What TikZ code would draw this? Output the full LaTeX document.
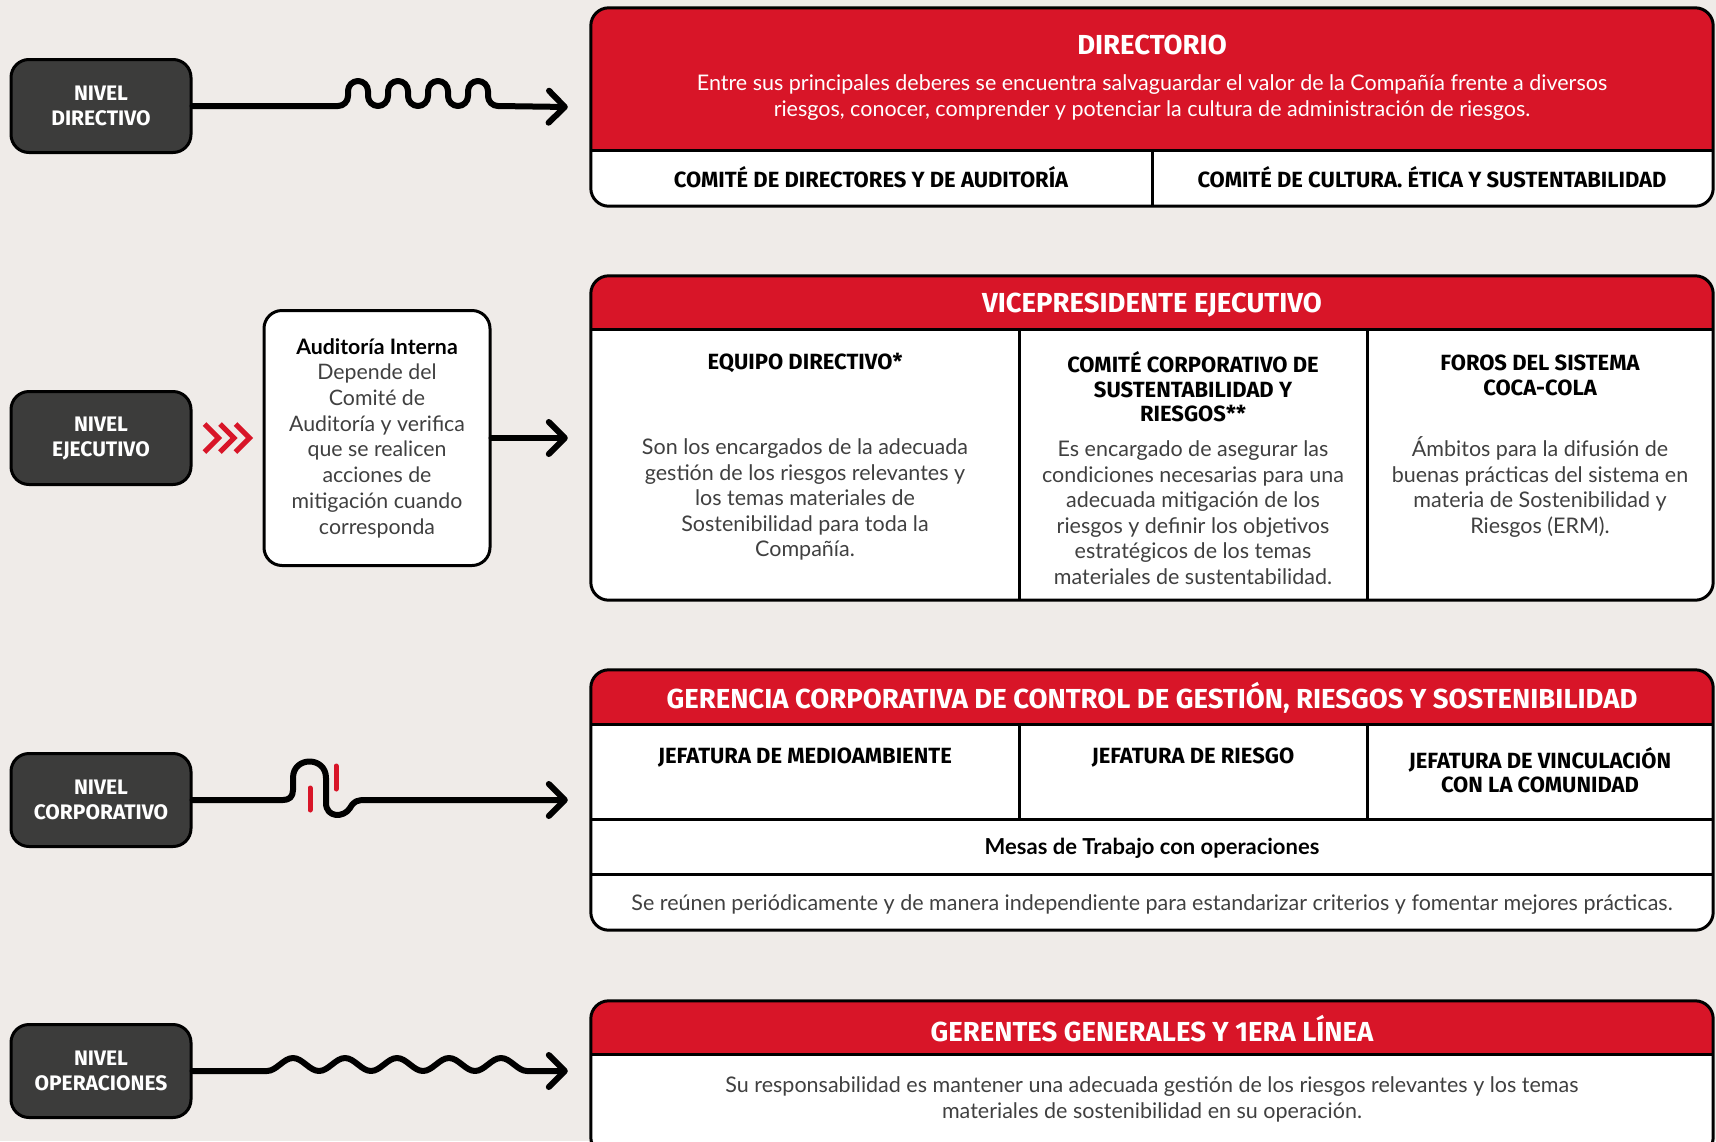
\documentclass[tikz,border=0pt]{standalone}
\usepackage{fontspec}
\setmainfont{Lato}
\newfontfamily\headfont{Fira Sans}
\usetikzlibrary{arrows.meta,positioning,calc}
\definecolor{cocared}{RGB}{216,21,40}
\definecolor{paper}{RGB}{239,235,232}
\definecolor{boxgray}{RGB}{60,60,59}
\definecolor{bodygray}{RGB}{64,64,64}

\tikzset{
  nivel/.style={draw=black, line width=3pt, fill=boxgray, rounded corners=18pt, minimum width=180pt, minimum height=93pt, text=white, align=center, font=\headfont\bfseries\fontsize{21}{25}\selectfont},
  panel/.style={fill=white, rounded corners=18pt, minimum width=1122pt, inner sep=0pt},
  panelrule/.style={draw=black, line width=3pt},
  wire/.style={line width=6pt, line cap=round, line join=round, -{Straight Barb[length=16pt,width=32pt,round]}},
  paneltitle/.style={text=white, font=\headfont\bfseries\fontsize{27.5}{30}\selectfont},
  subhead/.style={align=center, font=\headfont\bfseries\fontsize{22}{24.5}\selectfont},
  bodytext/.style={align=center, text=bodygray, font=\fontsize{21.5}{25.5}\selectfont},
  auditbox/.style={draw=black, line width=3pt, fill=white, rounded corners=18pt, minimum width=226pt, minimum height=255pt, align=center, text=bodygray, font=\fontsize{21.3}{25.7}\selectfont},
  redmark/.style={draw=cocared, line width=5pt}
}

\begin{document}
\begin{tikzpicture}[x=1pt,y=1pt]
\useasboundingbox (0,0) rectangle (1716,-1141);
\clip (0,0) rectangle (1716,-1141);
\fill[paper] (0,0) rectangle (1716,-1141);

\node[nivel] (lvlDir) at (101,-106) {NIVEL\\DIRECTIVO};
\node[nivel] (lvlEje) at (101,-438) {NIVEL\\EJECUTIVO};
\node[nivel] (lvlCor) at (101,-800) {NIVEL\\CORPORATIVO};
\node[nivel] (lvlOpe) at (101,-1071) {NIVEL\\OPERACIONES};

% directorio
\node[panel, minimum height=198pt] (dir) at (1152,-107) {};
\begin{scope}
  \clip[rounded corners=18pt] (dir.north west) rectangle (dir.south east);
  \fill[cocared] (dir.north west) rectangle (1713,-150);
\end{scope}
\draw[panelrule] (591,-150) -- (1713,-150) (1152,-150) -- (1152,-206);
\draw[panelrule, rounded corners=18pt] (dir.north west) rectangle (dir.south east);
\node[paneltitle] (dirTitle) at (1152,-45) {DIRECTORIO};
\node[bodytext, text=white] (dirText) at (1152,-97.5) {Entre sus principales deberes se encuentra salvaguardar el valor de la Compañía frente a diversos\\riesgos, conocer, comprender y potenciar la cultura de administración de riesgos.};
\node[subhead] (dirLeft) at (871,-177) {COMITÉ DE DIRECTORES Y DE AUDITORÍA};
\node[subhead] (dirRight) at (1432,-177) {COMITÉ DE CULTURA. ÉTICA Y SUSTENTABILIDAD};

% vicepresidente
\node[panel, minimum height=324pt] (vp) at (1152,-438) {};
\begin{scope}
  \clip[rounded corners=18pt] (vp.north west) rectangle (vp.south east);
  \fill[cocared] (vp.north west) rectangle (1713,-329);
\end{scope}
\draw[panelrule] (591,-329) -- (1713,-329) (1019,-329) -- (1019,-600) (1367,-329) -- (1367,-600);
\draw[panelrule, rounded corners=18pt] (vp.north west) rectangle (vp.south east);
\node[paneltitle] (vpTitle) at (1152,-305) {VICEPRESIDENTE EJECUTIVO};
\node[subhead] (vpHeadA) at (805,-363) {EQUIPO DIRECTIVO*};
\node[subhead] (vpHeadB) at (1193,-387) {COMITÉ CORPORATIVO DE\\SUSTENTABILIDAD Y\\RIESGOS**};
\node[subhead] (vpHeadC) at (1540,-375.5) {FOROS DEL SISTEMA\\COCA-COLA};
\node[bodytext] (vpTextA) at (805,-499.5) {Son los encargados de la adecuada\\gestión de los riesgos relevantes y\\los temas materiales de\\Sostenibilidad para toda la\\Compañía.};
\node[bodytext] (vpTextB) at (1193,-512.5) {Es encargado de asegurar las\\condiciones necesarias para una\\adecuada mitigación de los\\riesgos y definir los objetivos\\estratégicos de los temas\\materiales de sustentabilidad.};
\node[bodytext] (vpTextC) at (1540,-487) {Ámbitos para la difusión de\\buenas prácticas del sistema en\\materia de Sostenibilidad y\\Riesgos (ERM).};

% gerencia corporativa
\node[panel, minimum height=260pt] (gcc) at (1152,-800) {};
\begin{scope}
  \clip[rounded corners=18pt] (gcc.north west) rectangle (gcc.south east);
  \fill[cocared] (gcc.north west) rectangle (1713,-724);
\end{scope}
\draw[panelrule] (591,-724) -- (1713,-724) (591,-819) -- (1713,-819) (591,-874) -- (1713,-874)
  (1019,-724) -- (1019,-819) (1367,-724) -- (1367,-819);
\draw[panelrule, rounded corners=18pt] (gcc.north west) rectangle (gcc.south east);
\node[paneltitle] (gccTitle) at (1152,-698) {GERENCIA CORPORATIVA DE CONTROL DE GESTIÓN, RIESGOS Y SOSTENIBILIDAD};
\node[subhead] (gccHeadA) at (805,-758) {JEFATURA DE MEDIOAMBIENTE};
\node[subhead] (gccHeadB) at (1193,-758) {JEFATURA DE RIESGO};
\node[subhead] (gccHeadC) at (1540,-770) {JEFATURA DE VINCULACIÓN\\CON LA COMUNIDAD};
\node[bodytext, text=black, font=\bfseries\fontsize{22}{25.5}\selectfont] (gccMesas) at (1152,-848) {Mesas de Trabajo con operaciones};
\node[bodytext] (gccText) at (1152,-905) {Se reúnen periódicamente y de manera independiente para estandarizar criterios y fomentar mejores prácticas.};

% gerentes generales
\node[panel, minimum height=154pt] (ope) at (1152,-1078) {};
\begin{scope}
  \clip[rounded corners=18pt] (ope.north west) rectangle (ope.south east);
  \fill[cocared] (ope.north west) rectangle (1713,-1054);
\end{scope}
\draw[panelrule] (591,-1054) -- (1713,-1054);
\draw[panelrule, rounded corners=18pt] (ope.north west) rectangle (ope.south east);
\node[paneltitle] (opeTitle) at (1152,-1029) {GERENTES GENERALES Y 1ERA LÍNEA};
\node[bodytext] (opeText) at (1152,-1099.5) {Su responsabilidad es mantener una adecuada gestión de los riesgos relevantes y los temas\\materiales de sostenibilidad en su operación.};

% auditoria interna
\node[auditbox] (audit) at (377,-438) {{\color{black}\bfseries Auditoría Interna}\\Depende del\\Comité de\\Auditoría y verifica\\que se realicen\\acciones de\\mitigación cuando\\corresponda};
\foreach \dx in {12,27.5,43}
  \draw[redmark, miter limit=10] ($(lvlEje.east)+(\dx,14)$) -- ++(14,-14) -- ++(-14,-14);

% connectors
\draw[wire] (lvlDir.east) -- (338,-106) arc[start angle=270, end angle=360, radius=10pt]
  \foreach \k in {1,2,3} { -- ++(0,5) arc[start angle=180, end angle=0, radius=10pt] -- ++(0,-5) arc[start angle=180, end angle=360, radius=10pt] }
  -- ++(0,5) arc[start angle=180, end angle=0, radius=10pt] -- ++(0,-5) arc[start angle=180, end angle=270, radius=10pt]
  -- ([xshift=-23pt]dir.west);
\draw[wire] (audit.east) -- ([xshift=-23pt]vp.west);
\draw[wire] (lvlCor.east) -- (283,-800) .. controls (289,-800) and (293,-797) .. (293,-790) -- (293,-778)
  .. controls (293,-756) and (326,-756) .. (326,-778) -- (326,-803)
  .. controls (326,-818) and (344,-818) .. (350,-808) .. controls (354,-801) and (357,-800) .. (366,-800)
  -- ([xshift=-23pt]gcc.west);
\draw[redmark, line cap=round] (310,-788) -- (310,-810);
\draw[redmark, line cap=round] (336,-766) -- (336,-789);
\draw[wire] (lvlOpe.east) -- (267,-1071)
  \foreach \k in {1,...,5} { cos ++(13,6.5) sin ++(13,6.5) cos ++(13,-6.5) sin ++(13,-6.5) }
  -- ([xshift=-23pt,yshift=7pt]ope.west);
\end{tikzpicture}
\end{document}
